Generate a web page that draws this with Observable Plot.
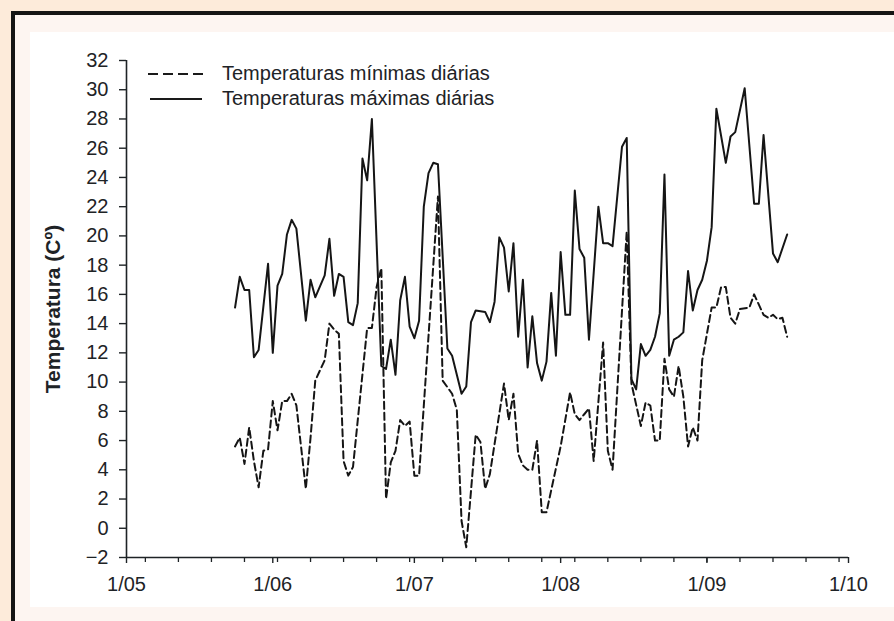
<!DOCTYPE html>
<html>
<head>
<meta charset="utf-8">
<script src="https://cdn.jsdelivr.net/npm/d3@7"></script>
<script src="https://cdn.jsdelivr.net/npm/@observablehq/plot@0.6"></script>
<style>
  html, body { margin: 0; padding: 0; }
  body { width: 894px; height: 621px; background: #fdebda; position: relative; overflow: hidden;
         font-family: "Liberation Sans", Arial, Helvetica, sans-serif; }
  #panel { position: absolute; left: 11px; top: 11px; width: 900px; height: 620px;
           background: #fdf5f1; border-left: 4px solid #151515; border-top: 4px solid #151515; }
  #inner { position: absolute; left: 30px; top: 32px; width: 900px; height: 575px; background: #ffffff; }
  #chart { position: absolute; left: 0; top: 0; }
  .leg { position: absolute; left: 146px; font-size: 20px; color: #1e2326; display: flex; align-items: center; white-space: nowrap; }
  .leg svg { margin-right: 16px; }
</style>
</head>
<body>
<div id="panel"></div>
<div id="inner"></div>
<div id="chart"></div>
<div class="leg" style="top:62px"><svg width="60" height="6"><line x1="2" x2="60" y1="3" y2="3" stroke="#1a1a1a" stroke-width="2" stroke-dasharray="10,5"/></svg>Temperaturas mínimas diárias</div>
<div class="leg" style="top:87px"><svg width="60" height="6"><line x1="4" x2="56" y1="3" y2="3" stroke="#1a1a1a" stroke-width="2"/></svg>Temperaturas máximas diárias</div>
<script>
// ---- data ----
const year = "2009";
const maxDays = ["05-24","05-25","05-26","05-27","05-28","05-29","05-31","06-01","06-02","06-03","06-04","06-05","06-06","06-08","06-09","06-10","06-12","06-13","06-14","06-15","06-16","06-17","06-18","06-19","06-20","06-21","06-22","06-24","06-25","06-26","06-27","06-28","06-29","06-30","07-01","07-02","07-03","07-04","07-05","07-06","07-08","07-09","07-11","07-12","07-13","07-14","07-16","07-17","07-18","07-19","07-20","07-21","07-22","07-23","07-24","07-25","07-26","07-27","07-28","07-29","07-30","07-31","08-01","08-02","08-03","08-04","08-05","08-06","08-07","08-09","08-10","08-11","08-12","08-14","08-15","08-16","08-17","08-18","08-19","08-20","08-21","08-22","08-23","08-24","08-25","08-26","08-27","08-28","08-29","08-30","08-31","09-01","09-02","09-03","09-05","09-06","09-07","09-09","09-11","09-12","09-13","09-15","09-16","09-18"];
const maxTemps = [15.1,17.2,16.3,16.3,11.7,12.2,18.1,12.0,16.6,17.4,20.1,21.1,20.5,14.2,17.0,15.8,17.3,19.8,15.9,17.4,17.2,14.1,13.9,15.4,25.3,23.8,28.0,11.1,10.9,12.9,10.5,15.6,17.2,13.8,13.0,14.2,22.0,24.3,25.0,24.9,12.3,11.8,9.2,9.7,14.1,14.9,14.8,14.1,15.5,19.9,19.2,16.2,19.5,13.1,17.0,11.0,14.5,11.3,10.1,11.4,16.1,11.8,18.9,14.6,14.6,23.1,19.1,18.5,12.9,22.0,19.5,19.5,19.3,26.1,26.7,10.2,9.5,12.6,11.8,12.2,13.1,14.7,24.2,11.8,12.9,13.1,13.4,17.6,14.9,16.3,17.0,18.3,20.6,28.7,25.0,26.8,27.1,30.1,22.2,22.2,26.9,18.8,18.2,20.1];
const minDays = ["05-24","05-25","05-26","05-27","05-28","05-29","05-30","05-31","06-01","06-02","06-03","06-04","06-05","06-06","06-08","06-09","06-10","06-12","06-13","06-14","06-15","06-16","06-17","06-18","06-21","06-22","06-23","06-24","06-25","06-26","06-27","06-28","06-29","06-30","07-01","07-02","07-06","07-07","07-09","07-10","07-11","07-12","07-14","07-15","07-16","07-17","07-20","07-21","07-22","07-23","07-24","07-25","07-26","07-27","07-28","07-29","08-01","08-03","08-04","08-05","08-06","08-07","08-08","08-10","08-11","08-12","08-15","08-16","08-18","08-19","08-20","08-21","08-22","08-23","08-24","08-25","08-26","08-27","08-28","08-29","08-30","08-31","09-02","09-03","09-04","09-05","09-06","09-07","09-08","09-10","09-11","09-13","09-14","09-15","09-16","09-17","09-18"];
const minTemps = [5.6,6.2,4.4,6.9,4.6,2.8,5.3,5.4,8.7,6.7,8.7,8.7,9.2,8.4,2.7,6.2,10.1,11.5,14.0,13.6,13.3,4.6,3.6,4.2,13.7,13.7,16.5,17.8,2.0,4.5,5.3,7.4,7.0,7.3,3.6,3.6,22.7,10.1,9.2,8.1,0.5,-1.3,6.4,5.9,2.7,3.7,9.9,7.4,9.2,5.1,4.3,4.0,4.0,6.0,1.1,1.1,5.6,9.3,7.8,7.4,7.8,8.2,4.6,12.7,5.3,4.0,20.3,9.9,7.0,8.6,8.4,6.0,6.0,11.6,9.5,9.0,11.1,9.0,5.6,6.9,6.0,11.5,15.1,15.1,16.5,16.5,14.4,14.0,15.0,15.1,16.0,14.6,14.4,14.6,14.3,14.4,13.1];
const yTicks = [-2,0,2,4,6,8,10,12,14,16,18,20,22,24,26,28,30,32];
const monthTicks = ["05-01","06-01","07-01","08-01","09-01","10-01"];
const weekTicks = ["05-05","05-12","05-19","05-26","06-02","06-09","06-16","06-23","06-30","07-07","07-14","07-21","07-28","08-04","08-11","08-18","08-25","09-01","09-08","09-15","09-22","09-29"];
const legendLabels = ["Temperaturas mínimas diárias", "Temperaturas máximas diárias"];
const yLabel = "Temperatura (Cº)";

// ---- build ----
const parse = d3.utcParse("%Y-%m-%d");
const toDate = s => parse(`${year}-${s}`);
const maxData = maxDays.map((d, i) => ({date: toDate(d), t: maxTemps[i]}));
const minData = minDays.map((d, i) => ({date: toDate(d), t: minTemps[i]}));
const months = monthTicks.map(toDate);
const weeks = weekTicks.map(toDate);
const x0 = months[0], x1 = months[months.length - 1];
const ink = "#1e2326";

const chart = Plot.plot({
  width: 894,
  height: 621,
  marginLeft: 126,
  marginRight: 46,
  marginTop: 60,
  marginBottom: 64,
  style: {background: "transparent", fontFamily: "'Liberation Sans', Arial, sans-serif", fontSize: "20px", color: ink, overflow: "visible"},
  x: {type: "utc", domain: [x0, x1]},
  y: {domain: [-2, 32]},
  marks: [
    Plot.ruleX([x0], {y1: -2, y2: 32, stroke: ink, strokeWidth: 1.6}),
    Plot.ruleY([-2], {x1: x0, x2: x1, stroke: ink, strokeWidth: 1.6}),
    Plot.axisY({ticks: yTicks, tickSize: 7, tickPadding: 11, label: null, fontSize: 20, stroke: ink, strokeWidth: 1.4}),
    Plot.axisX({ticks: weeks, tickSize: 5, tickFormat: () => "", label: null, stroke: ink, strokeWidth: 1.3}),
    Plot.axisX({ticks: months, tickSize: 6, tickPadding: 13, label: null, fontSize: 20, stroke: ink, strokeWidth: 1.4,
      tickFormat: d => "1/" + String(d.getUTCMonth() + 1).padStart(2, "0")}),
    Plot.text([yLabel], {frameAnchor: "left", textAnchor: "middle", rotate: -90, dx: -73, fontWeight: "bold", fontSize: 21, fill: ink}),
    Plot.line(minData, {x: "date", y: "t", stroke: "#151515", strokeWidth: 2, strokeDasharray: "7,4"}),
    Plot.line(maxData, {x: "date", y: "t", stroke: "#151515", strokeWidth: 2})
  ]
});
document.getElementById("chart").appendChild(chart);
</script>
</body>
</html>
